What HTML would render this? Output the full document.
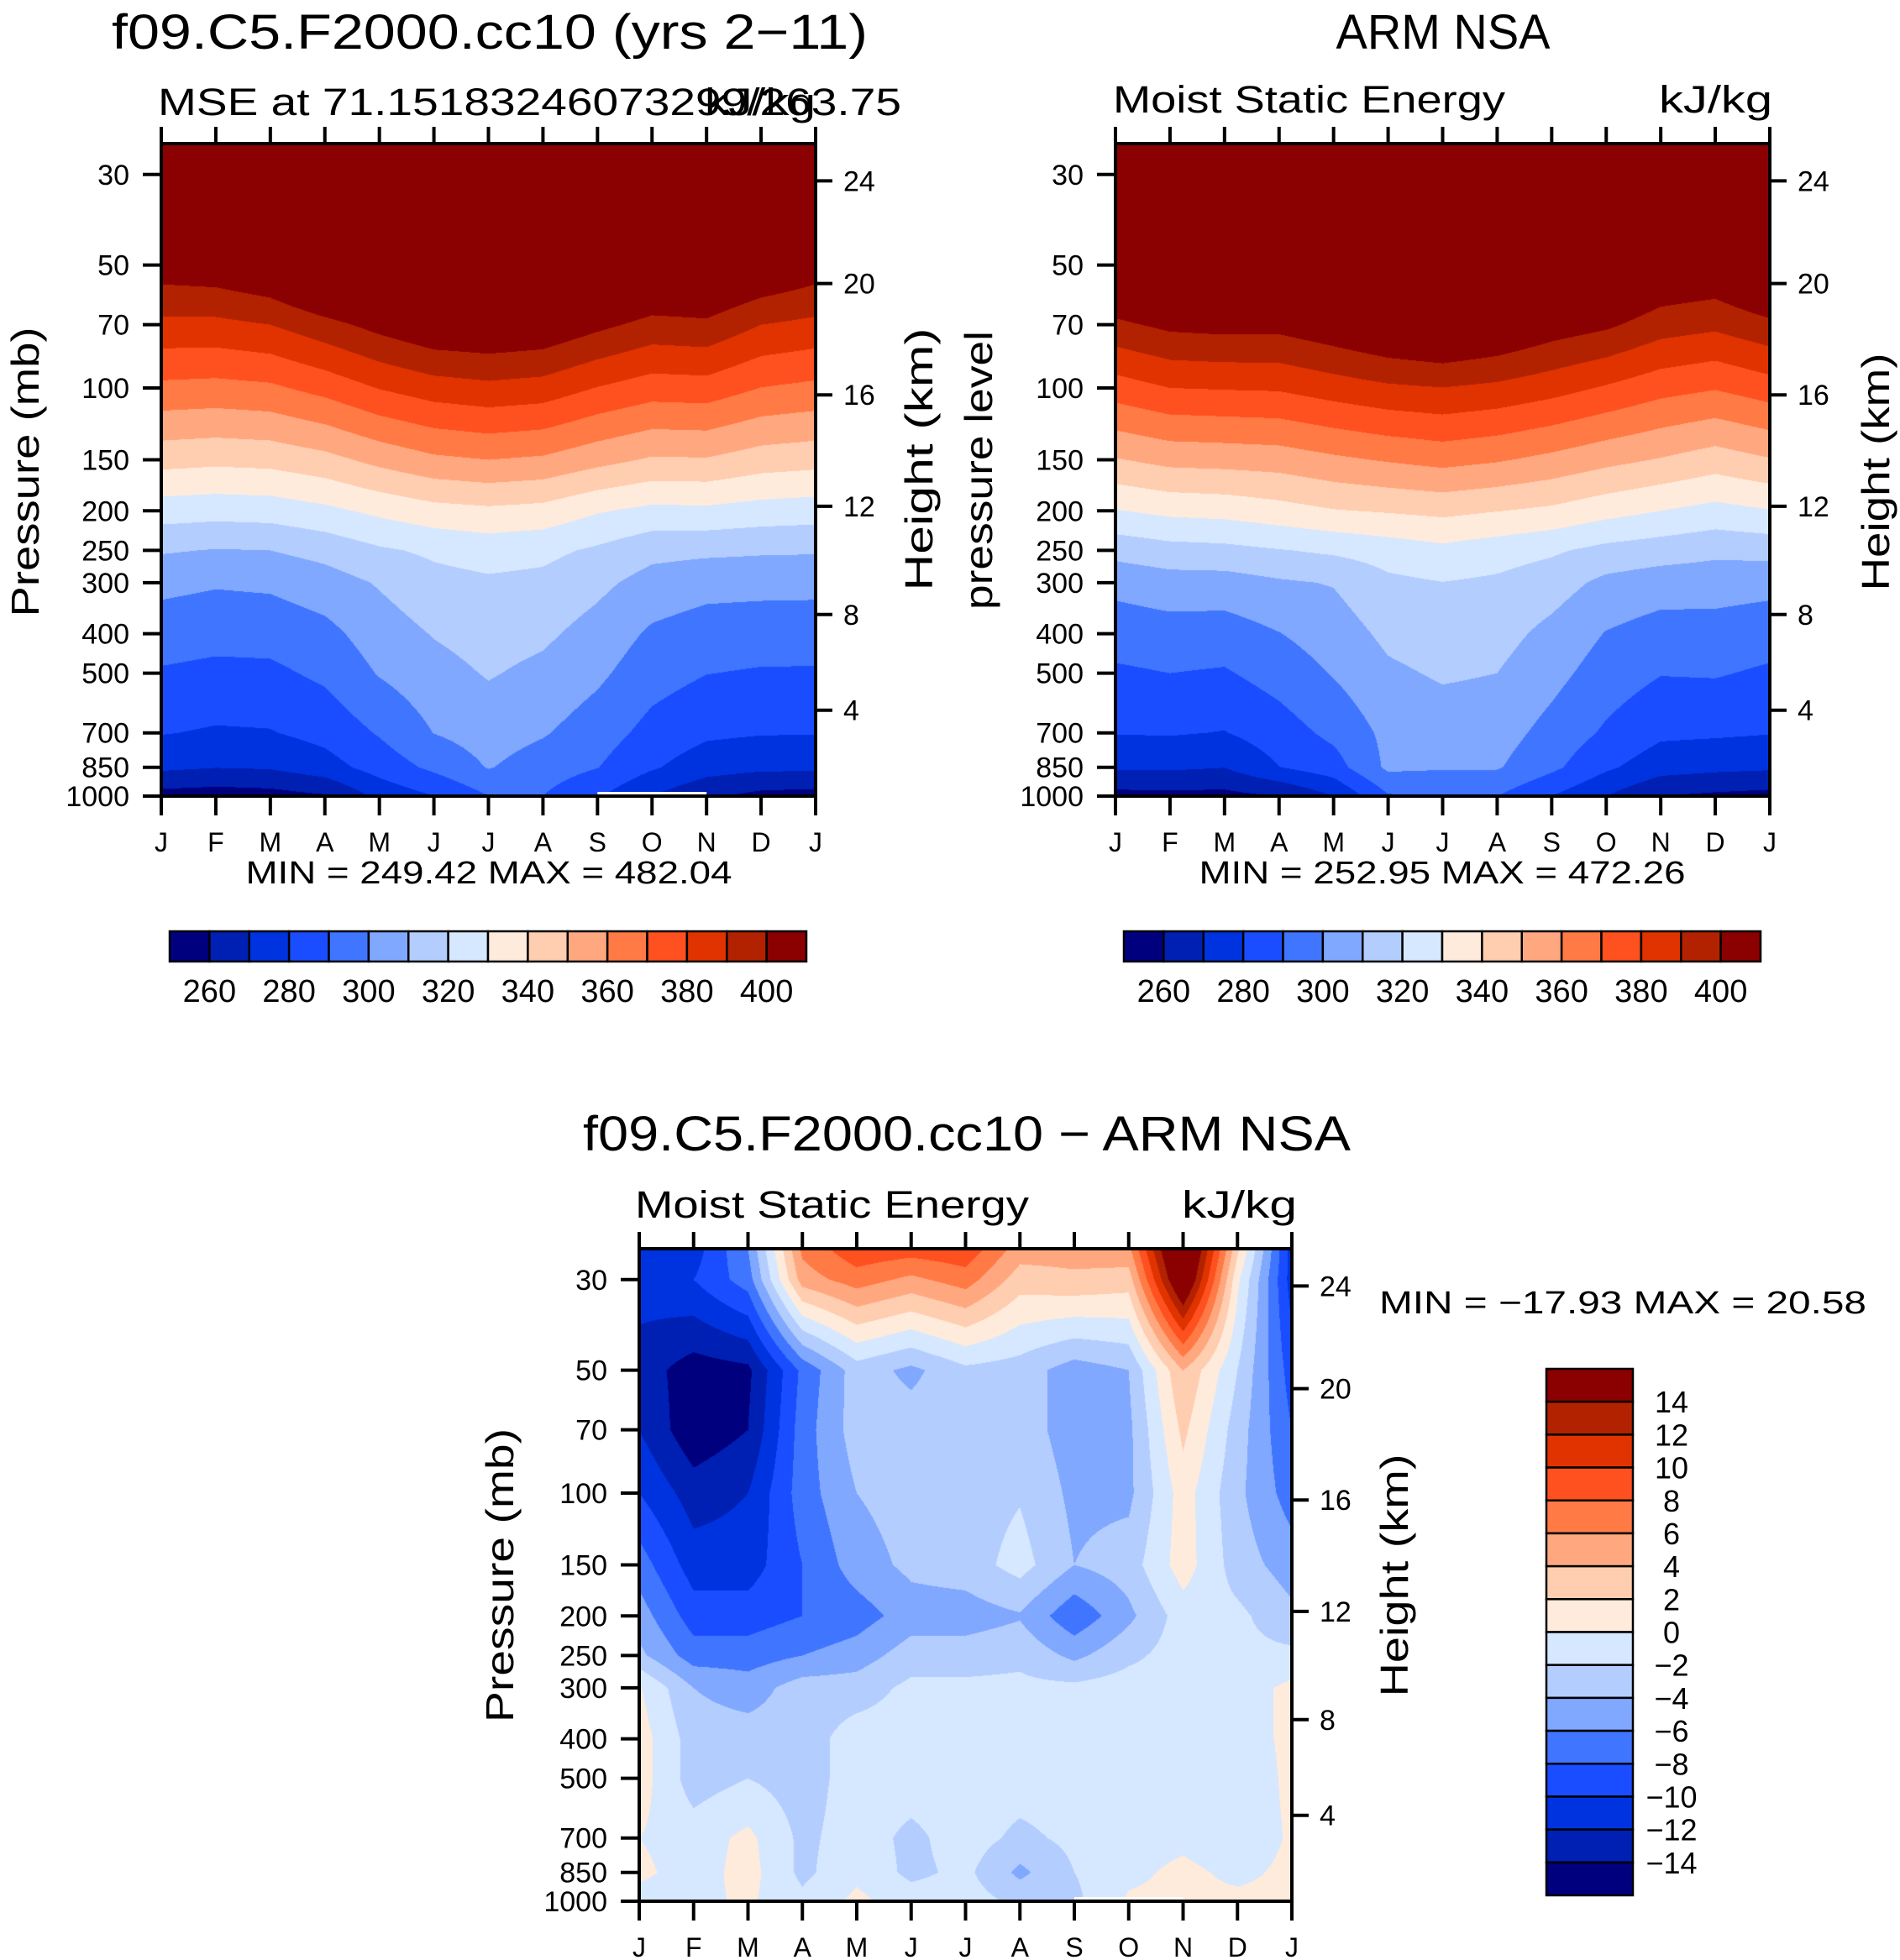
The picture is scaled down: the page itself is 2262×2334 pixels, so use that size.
<!DOCTYPE html>
<html><head><meta charset="utf-8">
<style>
html,body{margin:0;padding:0;background:#fff;}
body{width:2262px;height:2334px;position:relative;overflow:hidden;font-family:"Liberation Sans",sans-serif;}
canvas{position:absolute;}
svg{position:absolute;left:0;top:0;}
</style></head>
<body>
<canvas id="c1"></canvas>
<canvas id="c2"></canvas>
<canvas id="c3"></canvas>
<svg id="ov" width="2262" height="2334" xmlns="http://www.w3.org/2000/svg"></svg>
<script>
// ---- data ----
const months = ["J","F","M","A","M","J","J","A","S","O","N","D","J"];
const pLevels = [1000,850,700,500,400,300,250,200,150,100,70,50,30,25.2];
const pTicks = [30,50,70,100,150,200,250,300,400,500,700,850,1000];
const zTicks = [24,20,16,12,8,4];
const zTickP = [31.1,55.5,104,195,359,616];
const mseLevels = [260,270,280,290,300,310,320,330,340,350,360,370,380,390,400];
const mseLabels = [260,280,300,320,340,360,380,400];
const diffLevels = [-14,-12,-10,-8,-6,-4,-2,0,2,4,6,8,10,12,14];
const diffLabels = [14,12,10,8,6,4,2,0,-2,-4,-6,-8,-10,-12,-14];
const colors = ["#00007f","#0020b3","#0033e0","#1a4dff","#4075ff","#80a8ff","#b4cdff","#d5e8ff","#ffebdb","#ffcdb0","#ffa880","#ff7a45","#ff5020","#e03300","#b22200","#8b0000"];

// rows follow pLevels (1000 -> top); columns J..J
const modelMSE = [
[256,255,256,259,272.7,280,289.8,289.9,281,269.7,261.7,257,256],
[272,270.3,271,275.8,284.3,292.2,300.6,295.2,290.3,281.2,274.3,272.3,272],
[280.5,278.9,279.4,283.3,290.9,300.2,304.5,300.9,294.8,286.7,281.8,280.6,280.5],
[289,287.6,287.9,292,300.7,306.3,310.8,307.5,302,294.1,290.2,289.1,289],
[294.5,293.2,293.6,297,305,310.6,314.2,311.9,306.1,298.4,295.3,294.6,294.5],
[302.8,301,301.8,305.5,310.9,316.8,318.5,317.5,312.5,306.1,303.4,303,302.8],
[311,309.5,310,313.4,318.6,321.8,324.1,322.6,318.4,313,312.1,311.3,311],
[324.8,323.8,324.5,327.6,332.3,336.4,338,336.6,330.9,327.4,327.8,325.8,324.8],
[343.6,342.5,343.3,346.8,353,358,360,358.4,353.3,348.8,349.2,345.1,343.6],
[367.6,366.8,368.2,373.5,380.5,385.3,387.4,385.8,379.6,375,375.7,369.8,367.6],
[387.4,387.4,390,396.6,403.5,409.5,410.7,409,402.6,396.8,397.9,390,387.4],
[406,407.5,412,423,425,432,433,431,424,417,418,412,406],
[450,450,455,460,465,470,472,470,465,455,455,452,450],
[470,470,475,480,485,490,492,490,485,475,475,472,470]
];
const obsMSE = [
[256.7,257,257,260,270,289,290,290,280,270,260,258,256.7],
[271.5,271.6,270.2,279.8,285.7,302,301,300.9,292.3,281.75,274.3,272.5,271.5],
[280.4,280.8,279.6,285.3,292.5,302.6,304.9,304.3,296.6,288.5,281.9,281.4,280.4],
[288.5,290,289,294.1,300.7,308.2,311.2,310,303.2,295.3,290.4,290.8,288.5],
[294.2,295.7,295.2,299.7,304.9,312.3,315,313.6,307.2,299.5,295.7,295.9,294.2],
[303.1,305.7,305.8,308.7,310.6,317.9,319.8,318.3,314.5,307.5,304.8,304.3,303.1],
[313.4,316.3,317.2,319.5,321.7,324.5,327.4,324.5,321.5,317,314.75,312.4,313.4],
[329.5,332.5,333.5,336.2,339.4,340.9,342.5,340.3,338,333.6,330,326.7,329.5],
[349.3,353,353.7,354.7,358.1,360.9,363.3,361,357.3,352.9,349.3,345.1,349.3],
[375.3,380,380.7,381.2,385,388.3,389.8,387.7,383.9,378.9,373.6,370.7,375.3],
[397.7,402.5,403.6,403.3,407.7,412.8,416,412,405.8,401.9,394.8,392.3,397.7],
[419,423,424,424,429,436,440,436,427,420,412,410,419],
[460,460,462,462,465,470,472,470,465,458,455,452,460],
[470,470,472,472,475,480,482,480,475,468,465,462,470]
];
const diffMSE = [
[-1,-0.5,0.3,-1.5,0.5,-1,-1,-2.5,-2.5,0.3,0.5,0.5,0.5],
[0.5,-1,0.8,-2.5,-0.5,-2.5,-1.5,-4.5,-2,-0.5,0.5,-0.5,0.5],
[0,-1,0.5,-2.5,-1,-2.5,-1,-2.5,-1.5,-1,-0.5,-1.5,0.3],
[1,-3,-2,-3,-1,-1,-1,-1,-1,-1,-1,-1.5,0.5],
[1,-3,-3,-3,-1,-1,-1,-1,-1,-1,-1,-1,0.5],
[0.2,-4,-5,-3,-3,-1.5,-1.5,-1.5,-1.5,-1,-1,-1,0.5],
[-3.5,-7,-7,-6,-5,-3,-3,-2.5,-4.5,-2.5,-1,-1.5,-1.5],
[-5,-9,-9,-8,-7,-5,-5,-4.2,-7.5,-4.5,-1,-1.5,-3.5],
[-7,-11,-11,-8,-5,-3.5,-3,-1.2,-4,-3,1,-3,-5],
[-10,-13,-12,-7,-4,-3,-3,-2.2,-4.5,-4.5,1,-3.5,-7],
[-12,-15.5,-14,-7,-3,-3,-3,-3,-5,-4.5,2.5,-3,-8],
[-13,-15,-14.5,-7.5,-3,-4.5,-2.5,-3,-5,-4,4,-2,-9],
[-11,-10,-7,5,7,5.5,7,3,3.5,3,18,0.5,-11],
[-11,-11,-6,6.5,9.5,9,9.5,5,5,5.5,20,2.5,-11]
];

// ---- geometry ----
const P1 = {x:192,y:171,w:779,h:777};
const P2 = {x:1328,y:171,w:779,h:777};
const P3 = {x:761,y:1487,w:777,h:777};
const LT = Math.log(1000/25.2);
function yOf(P,p){ return P.y+P.h - Math.log(1000/p)/LT*P.h; }
function xOf(P,m){ return P.x + m/12*P.w; }

function colorIndex(v, lv){ let k=0; for(let j=0;j<lv.length;j++){ if(v>=lv[j]) k=j+1; } return k; }
function hexRGB(h){ return [parseInt(h.substr(1,2),16),parseInt(h.substr(3,2),16),parseInt(h.substr(5,2),16)]; }
const rgb = colors.map(hexRGB);
const lpL = pLevels.map(p=>Math.log(1000/p));

function fill(id,P,grid,lv){
  const c=document.getElementById(id);
  c.width=P.w; c.height=P.h; c.style.left=P.x+'px'; c.style.top=P.y+'px';
  const ctx=c.getContext('2d'); const img=ctx.createImageData(P.w,P.h);
  for(let py=0;py<P.h;py++){
    const lp=(P.h-py-0.5)/P.h*LT;
    let k=0; while(k<lpL.length-2 && lp>lpL[k+1]) k++;
    let t=(lp-lpL[k])/(lpL[k+1]-lpL[k]); t=Math.max(0,Math.min(1,t));
    for(let px=0;px<P.w;px++){
      const fx=(px+0.5)/P.w*12; let i=Math.min(11,Math.floor(fx)); const s=fx-i;
      const a=grid[k][i]*(1-s)+grid[k][i+1]*s;
      const b=grid[k+1][i]*(1-s)+grid[k+1][i+1]*s;
      const v=a*(1-t)+b*t;
      const col=rgb[colorIndex(v,lv)]; const o=(py*P.w+px)*4;
      img.data[o]=col[0];img.data[o+1]=col[1];img.data[o+2]=col[2];img.data[o+3]=255;
    }
  }
  ctx.putImageData(img,0,0);
}
fill('c1',P1,modelMSE,mseLevels);
fill('c2',P2,obsMSE,mseLevels);
fill('c3',P3,diffMSE,diffLevels);

// ---- svg overlay ----
const NS="http://www.w3.org/2000/svg"; const ov=document.getElementById('ov');
function el(tag,attrs,parent){ const e=document.createElementNS(NS,tag); for(const k in attrs) e.setAttribute(k,attrs[k]); (parent||ov).appendChild(e); return e; }
function txt(s,x,y,size,anchor,len,rot){
  const a={x:x,y:y,'font-size':size,'text-anchor':anchor||'middle','font-family':'Liberation Sans, sans-serif',fill:'#000'};
  if(len){a.textLength=len;a.lengthAdjust='spacingAndGlyphs';}
  if(rot) a.transform='rotate(-90 '+x+' '+y+')';
  const t=el('text',a); t.textContent=s; return t;
}
function axes(P,name,rightTicks,missing){
  const g=el('g',{});
  
  
  if(missing){ el('line',{x1:xOf(P,8),x2:xOf(P,10),y1:P.y+P.h-3,y2:P.y+P.h-3,stroke:'#fff','stroke-width':4},g); }
  el('rect',{x:P.x,y:P.y,width:P.w,height:P.h,fill:'none',stroke:'#000','stroke-width':4},g);
  for(let m=0;m<13;m++){
    const x=xOf(P,m);
    el('line',{x1:x,x2:x,y1:P.y,y2:P.y-20,stroke:'#000','stroke-width':4},g);
    el('line',{x1:x,x2:x,y1:P.y+P.h,y2:P.y+P.h+23,stroke:'#000','stroke-width':4},g);
    const t=txt(months[m],x,P.y+P.h+66,32,'middle');
    
    
  }
  pTicks.forEach(p=>{
    const y=yOf(P,p);
    el('line',{x1:P.x,x2:P.x-22,y1:y,y2:y,stroke:'#000','stroke-width':4},g);
    const t=txt(String(p),P.x-38,y+12,34,'end');
    
    
  });
  zTicks.forEach((z,i)=>{
    const y=yOf(P,zTickP[i]);
    el('line',{x1:P.x+P.w,x2:P.x+P.w+20,y1:y,y2:y,stroke:'#000','stroke-width':4},g);
    const t=txt(String(z),P.x+P.w+33,y+12,34,'start');
    
    
  });
}
axes(P1,'model',true,true);
axes(P2,'obs',true,false);
axes(P3,'diff',true,true);

function hbar(x0,y0,w,h,name){
  const g=el('g',{});
  
  
  const bw=w/16;
  colors.forEach((c,i)=>{ el('rect',{x:x0+i*bw,y:y0,width:bw,height:h,fill:c,stroke:'#000','stroke-width':2.5},g); });
  mseLabels.forEach(v=>{
    const j=mseLevels.indexOf(v)+1;
    const t=txt(String(v),x0+j*bw,y0+h+48,38,'middle');
    
    
  });
}
hbar(202,1109,758,36,'model-colorbar');
hbar(1338,1109,758,36,'obs-colorbar');

(function(){
  const x0=1841,y0=1630,w=103,h=627,bh=h/16;
  const g=el('g',{});
  
  
  for(let i=0;i<16;i++){ el('rect',{x:x0,y:y0+i*bh,width:w,height:bh,fill:colors[15-i],stroke:'#000','stroke-width':2.5},g); }
  diffLabels.forEach((v,i)=>{
    const s=v<0?'\u2212'+(-v):String(v);
    const t=txt(s,1990,y0+(i+1)*bh+13,36,'middle');
    
    
  });
})();

// titles & labels
function lab(s,x,y,size,anchor,len,rot,name){
  const t=txt(s,x,y,size,anchor,len,rot);
  
  
}
lab('f09.C5.F2000.cc10 (yrs 2\u221211)',583,58,58,'middle',900,null,'model-title');
lab('MSE at 71.15183246073299/263.75',188,137,45,'start',885,null,'model-subtitle');
lab('kJ/kg',971,137,45,'end',132,null,'model-units');
lab('ARM NSA',1718,58,58,'middle',255,null,'obs-title');
lab('Moist Static Energy',1325,134,45,'start',467,null,'obs-subtitle');
lab('kJ/kg',2110,134,45,'end',135,null,'obs-units');
lab('Pressure (mb)',46,562,46,'middle',345,true,'model-y-title');
lab('Height (km)',1110,547,46,'middle',313,true,'model-y2-title');
lab('pressure level',1181,560,46,'middle',332,true,'obs-y-title');
lab('Height (km)',2249,562,46,'middle',283,true,'obs-y2-title');
lab('MIN = 249.42 MAX = 482.04',582,1052,38,'middle',579,null,'model-minmax');
lab('MIN = 252.95 MAX = 472.26',1717,1052,38,'middle',579,null,'obs-minmax');
lab('f09.C5.F2000.cc10 \u2212 ARM NSA',1151,1370,58,'middle',914,null,'diff-title');
lab('Moist Static Energy',756,1450,45,'start',469,null,'diff-subtitle');
lab('kJ/kg',1544,1450,45,'end',137,null,'diff-units');
lab('Pressure (mb)',611,1876,46,'middle',350,true,'diff-y-title');
lab('Height (km)',1676,1876,46,'middle',289,true,'diff-y2-title');
lab('MIN = \u221217.93 MAX =   20.58',1642,1564,38,'start',580,null,'diff-minmax');
</script>
</body></html>
